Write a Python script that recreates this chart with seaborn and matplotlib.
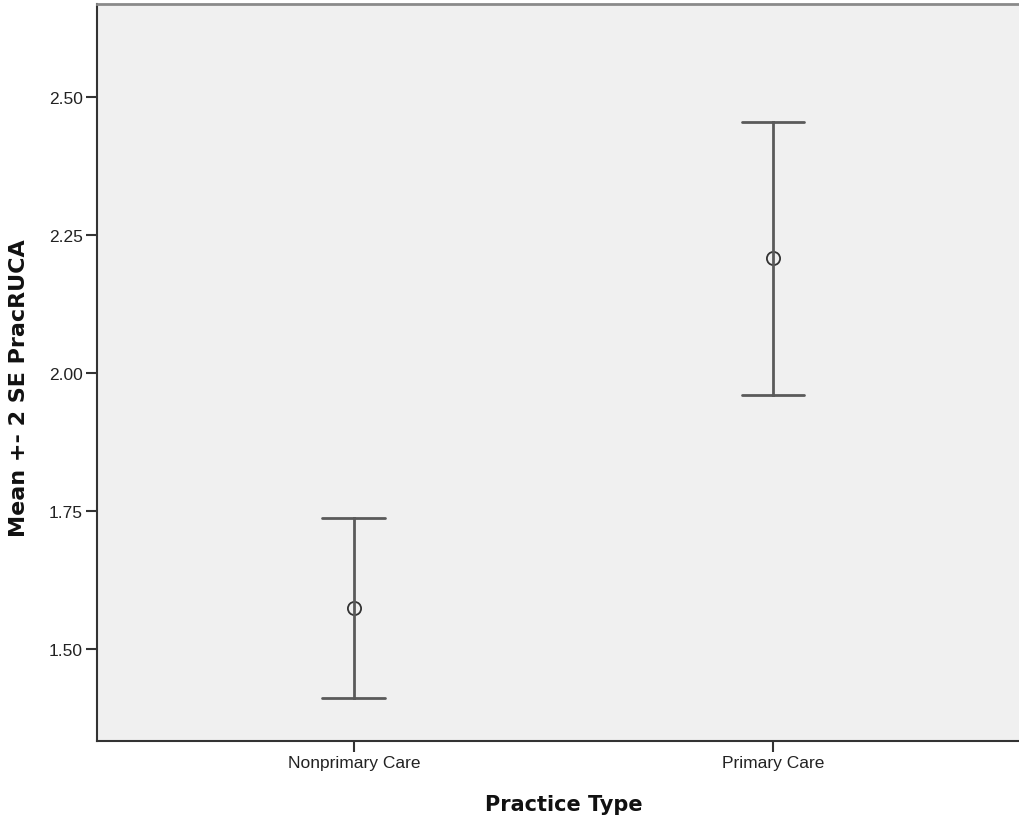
import pandas as pd
import numpy as np
import matplotlib
matplotlib.use("Agg")
import matplotlib.pyplot as plt
import seaborn as sns

# Practice type categories and the values (mean +- 2 SE)
categories = ["Nonprimary Care", "Primary Care"]
means = [1.574, 2.208]
lower = [1.411, 1.960]
upper = [1.737, 2.455]
yticks = [1.50, 1.75, 2.00, 2.25, 2.50]

# long table: lower / mean / upper per group, so median + full range gives the bar
rows = []
for cat, lo, m, hi in zip(categories, lower, means, upper):
    for v in (lo, m, hi):
        rows.append({"Practice Type": cat, "PracRUCA": v})
df = pd.DataFrame(rows)

sns.set_style("white")
plt.rcParams["font.family"] = ["Liberation Sans", "DejaVu Sans"]

fig = plt.figure(figsize=(10.19, 8.2), dpi=100)
ax = fig.add_axes([97 / 1019, 1 - 742 / 820, 1 - 97 / 1019, (742 - 5) / 820])
ax.set_facecolor("#F0F0F0")

sns.pointplot(
    data=df, x="Practice Type", y="PracRUCA", order=categories,
    estimator="median", errorbar=("pi", 100), capsize=0.15,
    linestyle="none", marker="o", markersize=9.5,
    markerfacecolor="none", markeredgecolor="#333333", markeredgewidth=1.3,
    color="#555555", err_kws={"linewidth": 2, "color": "#5a5a5a"}, ax=ax,
)

ax.set_xlim(-0.613, 1.587)
ax.set_ylim(1.333, 2.668)
ax.set_yticks(yticks)
ax.set_yticklabels([f"{t:.2f}" for t in yticks])

ax.tick_params(axis="both", direction="out", length=8, width=1.5, color="#333333",
               labelsize=12.5, labelcolor="#222222", left=True, bottom=True, pad=2)

for side in ["left", "bottom"]:
    ax.spines[side].set_color("#333333")
    ax.spines[side].set_linewidth(1.5)
ax.spines["top"].set_color("#8a8a8a")
ax.spines["top"].set_linewidth(2)
ax.spines["right"].set_visible(False)

ax.set_xlabel("Practice Type", fontsize=15, fontweight="bold",
              family="DejaVu Sans", color="#111111")
ax.set_ylabel("Mean +- 2 SE PracRUCA", fontsize=16, fontweight="bold",
              family="DejaVu Sans", color="#111111")
ax.xaxis.set_label_coords(0.5065, -0.0855)
ax.yaxis.set_label_coords(-0.0846, 0.48)
ax.xaxis.label.set_va("center")
ax.yaxis.label.set_va("center")

fig.savefig("out.png", dpi=100)
